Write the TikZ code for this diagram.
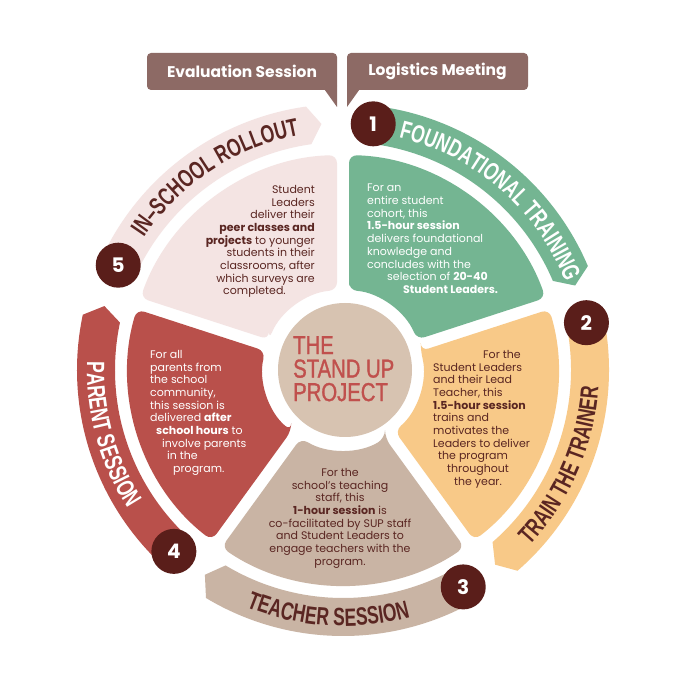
\documentclass[tikz,border=0pt]{standalone}
\usepackage{fontspec}
\setmainfont{Poppins}
\newfontfamily\titlefont[FakeStretch=0.7]{Liberation Sans Bold}
\newfontfamily\centerfont[FakeStretch=0.78, FakeBold=1.2]{Liberation Sans}
\usetikzlibrary{decorations.text}
\definecolor{cgreen}{HTML}{74B592}
\definecolor{cyellow}{HTML}{F8C988}
\definecolor{ctan}{HTML}{C9B4A4}
\definecolor{cred}{HTML}{B9504B}
\definecolor{cpink}{HTML}{F4E4E3}
\definecolor{ccenter}{HTML}{D7C3B1}
\definecolor{cbadge}{HTML}{5A1E1A}
\definecolor{ccall}{HTML}{8D6A65}
\definecolor{cdark}{HTML}{5A2622}
\definecolor{ctitle}{HTML}{C0504D}
\newcommand\mysector[3]{%
  \fill[#1, rounded corners=8pt] ({#2-asin(6/80)}:80pt) -- ({#2-asin(6/215)}:215pt)
    arc[start angle={#2-asin(6/215)}, end angle={#3+asin(6/215)}, radius=215pt]
    -- ({#3+asin(6/80)}:80pt)
    arc[start angle={#3+asin(6/80)}, end angle={#2-asin(6/80)}, radius=80pt] -- cycle;}
\newcommand\myband[3]{%
  \fill[#1] (#2:266pt) arc[start angle=#2, end angle={#3+3}, radius=266pt]
    -- (#3:247pt) -- ({#3+3}:228pt)
    arc[start angle={#3+3}, end angle=#2, radius=228pt] -- cycle;}
\tikzset{
  badge/.style={circle, fill=cbadge, minimum size=45pt, inner sep=0pt, text=white,
    font=\fontsize{20}{20}\selectfont\bfseries},
  body/.style={inner sep=0pt, font=\fontsize{11}{12.7}\selectfont},
  callbox/.style={fill=ccall, rounded corners=4pt},
  calltext/.style={text=white, font=\fontsize{15.5}{15.5}\selectfont\bfseries, inner sep=0pt},
}
\begin{document}
\begin{tikzpicture}[x=1pt,y=1pt]
\useasboundingbox (0,0) rectangle (688,688);
\fill[white] (0,0) rectangle (688,688);
\begin{scope}[shift={(343,318)}]
  % callouts
  \fill[callbox] (-196,280) rectangle (-6,317);
  \fill[ccall] (-21,284) -- (-6,284) -- (-6,263) -- cycle;
  \node[calltext] (eval) at (-101,299) {Evaluation Session};
  \fill[callbox] (4,280) rectangle (185,317);
  \fill[ccall] (4,284) -- (19,284) -- (4,263) -- cycle;
  \node[calltext] (logi) at (94.5,299) {Logistics Meeting};

  % inner sectors
  \mysector{cpink}{162}{90}
  \mysector{cgreen}{90}{18}
  \mysector{cyellow}{18}{-54}
  \mysector{ctan}{-54}{-126}
  \mysector{cred}{234}{162}

  % center circle
  \fill[ccenter] (2,0) circle[radius=67pt];
  \node[anchor=north west, inner sep=0pt, align=left, text=ctitle,
    font=\centerfont\fontsize{26}{23.5}\selectfont] (center) at (-50,34)
    {THE\\STAND UP\\PROJECT};

  % outer bands
  \myband{cpink}{155}{95}
  \myband{cgreen}{83}{20}
  \myband{cyellow}{11}{-52}
  \myband{ctan}{-61}{-124}
  \myband{cred}{227}{165}

  % band titles
  \path[decorate, decoration={text along path, text align=center, text color=cdark,
    text={|\titlefont\fontsize{25}{25}\selectfont|IN–SCHOOL ROLLOUT}}]
    (158.5:239pt) arc[start angle=158.5, end angle=88.5, radius=239pt];
  \path[decorate, decoration={text along path, text align=center, text color=white,
    text={|\titlefont\fontsize{25}{25}\selectfont|FOUNDATIONAL TRAINING}}]
    (84:239pt) arc[start angle=84, end angle=14, radius=239pt];
  \path[decorate, decoration={text along path, text align=center, text color=cdark,
    text={|\titlefont\fontsize{25}{25}\selectfont|TRAIN THE TRAINER}}]
    (-58.5:256pt) arc[start angle=-58.5, end angle=11.5, radius=256pt];
  \path[decorate, decoration={text along path, text align=center, text color=cdark,
    text={|\titlefont\fontsize{25}{25}\selectfont|TEACHER SESSION}}]
    (-128.5:256pt) arc[start angle=-128.5, end angle=-58.5, radius=256pt];
  \path[decorate, decoration={text along path, text align=center, text color=white,
    text={|\titlefont\fontsize{25}{25}\selectfont|PARENT SESSION}}]
    (160.5:256pt) arc[start angle=160.5, end angle=230.5, radius=256pt];

  % badges
  \node[badge] (b1) at (83:248pt) {1};
  \node[badge] (b2) at (11:248pt) {2};
  \node[badge] (b3) at (-61:248pt) {3};
  \node[badge] (b4) at (-133:248pt) {4};
  \node[badge] (b5) at (155:248pt) {5};

  % body texts
  \node[body, anchor=north west, align=left, text=white] (tgreen) at (24,186)
    {For an\\entire student\\cohort, this\\\textbf{1.5-hour session}\\delivers foundational\\knowledge and\\concludes with the\\\hspace*{20pt}selection of \textbf{20-40}\\\hspace*{36pt}\textbf{Student Leaders.}};
  \node[body, anchor=north east, align=right, text=cdark] (tpink) at (-28,185)
    {Student\\Leaders\\deliver their\\\textbf{peer classes and}\\\textbf{projects} to younger\\students in their\hspace*{6pt}\\classrooms, after\\which surveys are\hspace*{3pt}\\completed.\hspace*{29pt}};
  \node[body, anchor=north west, align=left, text=cdark] (tyellow) at (90,20)
    {\hspace*{50pt}For the\\Student Leaders\\and their Lead\\Teacher, this\\\textbf{1.5-hour session}\\trains and\\motivates the\\Leaders to deliver\\\hspace*{5pt}the program\\\hspace*{14pt}throughout\\\hspace*{21pt}the year.};
  \node[body, anchor=north, align=center, text=cdark] (ttan) at (-3,-98)
    {For the\\school’s teaching\\staff, this\\\textbf{1-hour session} is\\co-facilitated by SUP staff\\and Student Leaders to\\engage teachers with the\\program.};
  \node[body, anchor=north west, align=left, text=white] (tred) at (-193,20)
    {For all\\parents from\\the school\\community,\\this session is\\delivered \textbf{after}\\\hspace*{6pt}\textbf{school hours} to\\\hspace*{12pt}involve parents\\\hspace*{17pt}in the\\\hspace*{23pt}program.};
\end{scope}
\end{tikzpicture}
\end{document}
